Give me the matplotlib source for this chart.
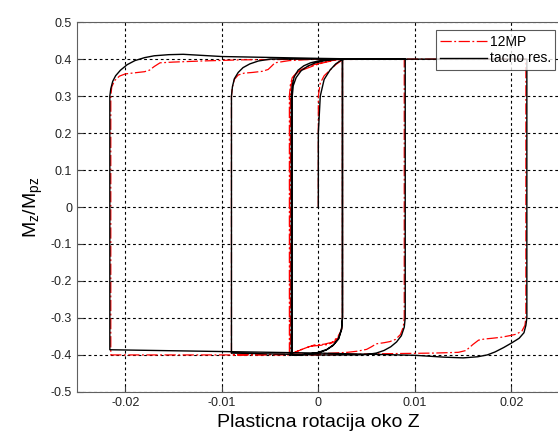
import numpy as np
import matplotlib
matplotlib.use('Agg')
import matplotlib.pyplot as plt

plt.rcParams['font.family'] = ['Liberation Sans', 'DejaVu Sans']

# 12MP model (red, dash-dot)
x_12mp = [0.0, 0.0, 0.0002, 0.0006, 0.0012, 0.0018, 0.0025,
          0.0025, 0.0024, 0.0021, 0.0016, 0.0010, 0.0002, -0.0006, -0.0012, -0.0018, -0.0024, -0.0030,
          -0.0030, -0.0029, -0.0027, -0.0023, -0.0017, -0.0010, -0.0003, 0.0005, 0.0015, 0.0025,
          0.0025, 0.0024, 0.0020, 0.0014, 0.0006, -0.0004, -0.0012, -0.0020, -0.0029,
          -0.0029, -0.0028, -0.0025, -0.0019, -0.0011, -0.0002, 0.0008, 0.0020, 0.0089,
          0.0089, 0.0088, 0.0085, 0.0080, 0.0074, 0.0068, 0.0060, 0.0055, 0.0050, 0.0040, 0.0030, 0.0, -0.0090,
          -0.0090, -0.0089, -0.0087, -0.0083, -0.0077, -0.0068, -0.0058, -0.0052, -0.0048, -0.0045, -0.0030, 0.0, 0.0215,
          0.0215, 0.0214, 0.0211, 0.0205, 0.0198, 0.0190, 0.0180, 0.0172, 0.0166, 0.0160, 0.0153, 0.0145, 0.0120, 0.0060, 0.0, -0.0215,
          -0.0215, -0.0214, -0.0211, -0.0206, -0.0200, -0.0190, -0.0180, -0.0175, -0.0170, -0.0164, -0.0150, -0.0120, -0.0080, 0.0, 0.0040]
y_12mp = [0.0, 0.30, 0.335, 0.355, 0.370, 0.385, 0.398,
          -0.30, -0.330, -0.352, -0.365, -0.372, -0.374, -0.376, -0.380, -0.386, -0.393, -0.400,
          0.30, 0.330, 0.350, 0.362, 0.370, 0.377, 0.384, 0.390, 0.396, 0.400,
          -0.30, -0.332, -0.352, -0.366, -0.371, -0.373, -0.380, -0.388, -0.398,
          0.30, 0.333, 0.355, 0.370, 0.380, 0.387, 0.393, 0.399, 0.400,
          -0.30, -0.325, -0.345, -0.358, -0.364, -0.367, -0.370, -0.378, -0.385, -0.390, -0.393, -0.397, -0.400,
          0.30, 0.325, 0.345, 0.357, 0.362, 0.364, 0.367, 0.372, 0.382, 0.390, 0.396, 0.400, 0.400,
          -0.30, -0.320, -0.335, -0.344, -0.348, -0.352, -0.355, -0.357, -0.360, -0.372, -0.388, -0.393, -0.395, -0.397, -0.400, -0.400,
          0.30, 0.325, 0.342, 0.354, 0.360, 0.363, 0.366, 0.370, 0.380, 0.390, 0.392, 0.395, 0.398, 0.400, 0.400]

# exact result (black, solid)
x_exact = [0.0, 0.0, 0.0002, 0.0006, 0.0012, 0.0018, 0.0023, 0.0027,
           0.0025, 0.0025, 0.0024, 0.0021, 0.0016, 0.0009, 0.0, -0.0010, -0.0020, -0.0028,
           -0.0028, -0.0027, -0.0025, -0.0021, -0.0015, -0.0008, 0.0, 0.0010, 0.0020, 0.0025,
           0.0025, 0.0024, 0.0021, 0.0015, 0.0008, 0.0, -0.0011, -0.0020, -0.0027,
           -0.0027, -0.0026, -0.0023, -0.0018, -0.0011, -0.0003, 0.0007, 0.0018, 0.0026, 0.0090,
           0.0090, 0.0089, 0.0086, 0.0081, 0.0075, 0.0068, 0.0060, 0.0050, 0.0040, 0.0, -0.0090,
           -0.0090, -0.0089, -0.0087, -0.0083, -0.0078, -0.0071, -0.0062, -0.0050, 0.0, 0.0216,
           0.0216, 0.0215, 0.0213, 0.0208, 0.0200, 0.0192, 0.0183, 0.0175, 0.0165, 0.0150, 0.0130, 0.0100, 0.0, -0.0216,
           -0.0216, -0.0215, -0.0213, -0.0210, -0.0205, -0.0198, -0.0190, -0.0180, -0.0170, -0.0155, -0.0140, -0.0120, -0.0100, 0.0, 0.0050]
y_exact = [0.0, 0.20, 0.30, 0.345, 0.370, 0.387, 0.396, 0.400,
           0.400, -0.30, -0.330, -0.355, -0.372, -0.385, -0.393, -0.398, -0.400, -0.400,
           0.30, 0.330, 0.352, 0.370, 0.382, 0.390, 0.395, 0.399, 0.400, 0.400,
           -0.30, -0.332, -0.357, -0.375, -0.387, -0.394, -0.398, -0.400, -0.400,
           0.30, 0.328, 0.350, 0.368, 0.381, 0.390, 0.396, 0.399, 0.400, 0.400,
           -0.30, -0.325, -0.348, -0.365, -0.378, -0.388, -0.395, -0.399, -0.400, -0.400, -0.395,
           0.30, 0.325, 0.347, 0.364, 0.377, 0.387, 0.395, 0.400, 0.400, 0.400,
           -0.30, -0.320, -0.340, -0.355, -0.368, -0.380, -0.392, -0.400, -0.405, -0.408, -0.406, -0.401, -0.395, -0.386,
           0.30, 0.320, 0.340, 0.355, 0.370, 0.385, 0.396, 0.404, 0.409, 0.412, 0.413, 0.410, 0.407, 0.402, 0.400]

x_ticks = [-0.02, -0.01, 0, 0.01, 0.02]
x_ticklabels = ['-0.02', '-0.01', '0', '0.01', '0.02']
y_ticks = [-0.5, -0.4, -0.3, -0.2, -0.1, 0, 0.1, 0.2, 0.3, 0.4, 0.5]
y_ticklabels = ['-0.5', '-0.4', '-0.3', '-0.2', '-0.1', '0', '0.1', '0.2', '0.3', '0.4', '0.5']

fig = plt.figure(figsize=(5.58, 4.34), dpi=100)
ax = fig.add_axes([0.138, 0.097, 0.865, 0.852])

ax.plot(x_12mp, y_12mp, color='red', linestyle=(0, (9, 2, 1.5, 2)), linewidth=0.9, label='12MP')
ax.plot(x_exact, y_exact, color='black', linestyle='-', linewidth=1.0, label='tacno res.')

ax.set_xlim(-0.025, 0.025)
ax.set_ylim(-0.5, 0.5)
ax.set_xticks(x_ticks)
ax.set_xticklabels(x_ticklabels)
ax.set_yticks(y_ticks)
ax.set_yticklabels(y_ticklabels)
ax.tick_params(direction='in', length=4, labelsize=9, colors='#404040', labelcolor='#222222')
ax.grid(True, color='black', linestyle=(0, (2.5, 2.5)), linewidth=0.8)
for s in ax.spines.values():
    s.set_color('#606060')

ax.set_xlabel('Plasticna rotacija oko Z', fontsize=14)
ax.set_ylabel(r'$\mathregular{M_z/M_{pz}}$', fontsize=14)

leg = ax.legend(loc='upper right', bbox_to_anchor=(0.997, 0.985), fontsize=10,
                frameon=True, fancybox=False, borderpad=0.3, handlelength=3.4,
                handletextpad=0.2, labelspacing=0.2, borderaxespad=0.2)
leg.get_frame().set_edgecolor('#303030')
leg.get_frame().set_linewidth(0.8)

fig.savefig('out.png', dpi=100)
